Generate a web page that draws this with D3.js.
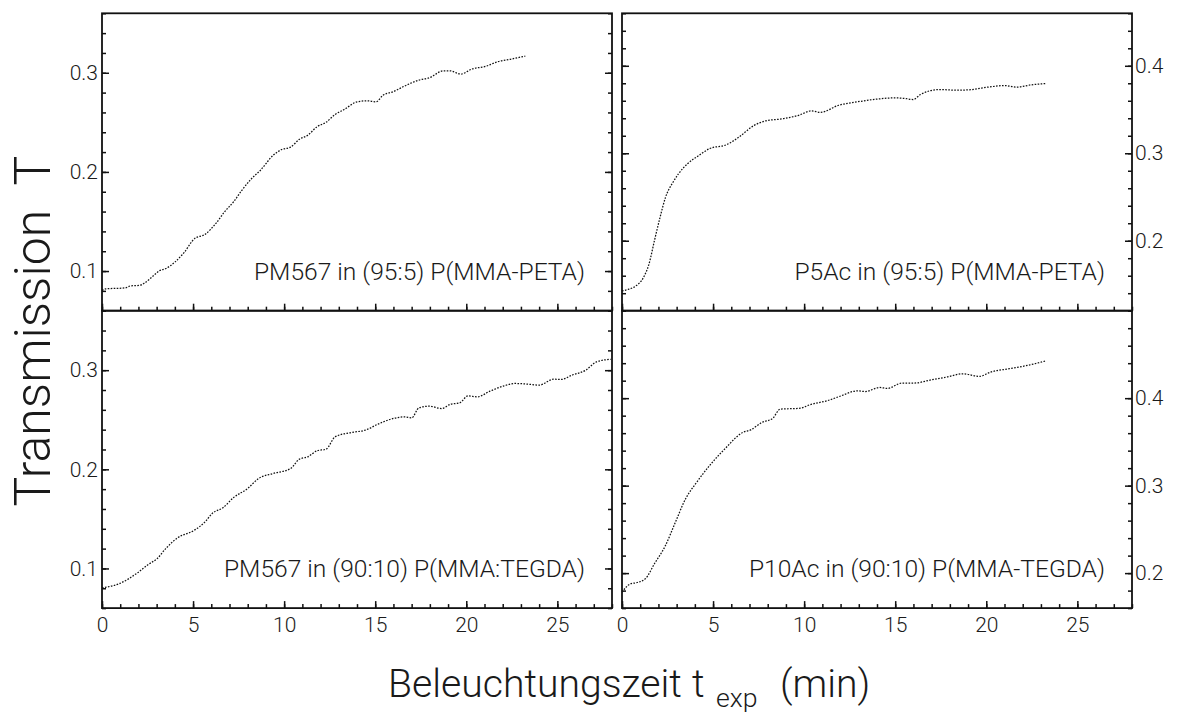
<!DOCTYPE html>
<html>
<head>
<meta charset="utf-8">
<script src="https://cdn.jsdelivr.net/npm/d3@7"></script>
<style>
  html, body { margin: 0; padding: 0; background: #fff; }
  svg { display: block; }
  text { font-family: Roboto, "Liberation Sans", Arial, sans-serif; font-weight: 300; fill: #1a1a1a; }
</style>
</head>
<body>
<svg id="chart" width="1178" height="714"></svg>
<script>
// Exposure time (min) and transmission for the four samples
const tPM567Peta = [0, 0.2, 1.27, 1.56, 2.05, 2.34, 2.93, 3.13, 3.5, 4.0, 4.5, 5.08, 5.66, 6.25, 6.74, 7.23, 7.7, 8.2, 8.7, 9.4, 9.86, 10.35, 10.84, 11.3, 11.8, 12.3, 12.8, 13.3, 14.0, 14.55, 15.04, 15.43, 16.0, 16.6, 17.4, 17.97, 18.75, 19.1, 19.7, 20.3, 21.1, 21.7, 22.46, 23.24];
const vPM567Peta = [0.0805, 0.082, 0.083, 0.085, 0.0855, 0.088, 0.097, 0.100, 0.1025, 0.109, 0.1185, 0.1327, 0.137, 0.148, 0.160, 0.170, 0.182, 0.193, 0.2017, 0.2168, 0.2226, 0.225, 0.233, 0.237, 0.2455, 0.250, 0.258, 0.263, 0.2707, 0.2717, 0.2707, 0.2774, 0.281, 0.2865, 0.2926, 0.295, 0.302, 0.302, 0.2987, 0.3037, 0.3067, 0.311, 0.3138, 0.3168];

const tP5AcPeta = [0, 0.37, 0.77, 1.18, 1.48, 1.78, 2.09, 2.39, 2.8, 3.1, 3.6, 4.22, 4.8, 5.74, 6.35, 7.26, 7.87, 8.88, 9.7, 10.4, 10.9, 11.9, 12.9, 13.96, 14.97, 15.6, 15.98, 16.39, 17.4, 18.4, 19.2, 20.2, 21.05, 21.66, 22.47, 23.3];
const vP5AcPeta = [0.1426, 0.1446, 0.1484, 0.158, 0.1732, 0.200, 0.2268, 0.2497, 0.2669, 0.2765, 0.288, 0.2975, 0.3052, 0.3098, 0.3174, 0.3319, 0.3369, 0.3396, 0.3434, 0.3484, 0.3468, 0.3549, 0.3587, 0.3618, 0.3633, 0.3625, 0.3614, 0.3671, 0.3728, 0.3721, 0.3728, 0.3759, 0.3774, 0.3755, 0.3782, 0.3797];

const tPM567Tegda = [0, 0.98, 1.95, 2.54, 3.03, 3.5, 4.1, 5.08, 5.66, 6.05, 6.64, 7.23, 8.0, 8.6, 9.4, 10.35, 10.84, 11.3, 11.8, 12.3, 12.8, 13.67, 14.45, 15.23, 16.0, 16.6, 17.0, 17.4, 17.97, 18.65, 19.14, 19.63, 20.1, 20.6, 21.3, 22.07, 22.66, 23.4, 24.0, 24.8, 25.2, 25.8, 26.56, 27.15, 27.93];
const vPM567Tegda = [0.0805, 0.0849, 0.0956, 0.104, 0.110, 0.120, 0.1303, 0.1387, 0.147, 0.1555, 0.1612, 0.1716, 0.1807, 0.1908, 0.1958, 0.2007, 0.2103, 0.2126, 0.2187, 0.2203, 0.2328, 0.2371, 0.2395, 0.2462, 0.2513, 0.2529, 0.2519, 0.262, 0.2637, 0.2613, 0.2657, 0.267, 0.2741, 0.2731, 0.2788, 0.2842, 0.2866, 0.2859, 0.2849, 0.2909, 0.2906, 0.295, 0.300, 0.3084, 0.311];

const tP10AcTegda = [0, 0.47, 0.77, 1.28, 1.78, 2.39, 2.9, 3.5, 4.12, 4.83, 5.64, 6.65, 7.06, 7.67, 8.28, 8.68, 9.8, 10.3, 11.3, 11.93, 12.94, 13.35, 14.16, 14.56, 15.37, 15.98, 17.0, 17.81, 18.72, 19.63, 20.24, 21.26, 22.27, 23.3];
const vP10AcTegda = [0.1782, 0.1878, 0.1889, 0.1935, 0.2107, 0.2317, 0.2566, 0.2853, 0.3044, 0.3235, 0.3419, 0.361, 0.3637, 0.3721, 0.3771, 0.3874, 0.3885, 0.3924, 0.3973, 0.4019, 0.4084, 0.4076, 0.4122, 0.4111, 0.4172, 0.4172, 0.421, 0.4241, 0.4279, 0.4249, 0.4298, 0.4337, 0.4375, 0.4428];

// Sample labels
const sampleLabels = [
  "PM567 in (95:5) P(MMA-PETA)",
  "P5Ac in (95:5) P(MMA-PETA)",
  "PM567 in (90:10) P(MMA:TEGDA)",
  "P10Ac in (90:10) P(MMA-TEGDA)"
];

// Axis ranges and tick values
const xDomain = [0, 28];
const xMajorTicks = [0, 5, 10, 15, 20, 25];
const xMinorTicks = d3.range(0, 29, 1);
const yDomainLeft = [0.06, 0.36];
const yDomainTopRight = [0.12, 0.46];
const yDomainBottomRight = [0.16, 0.50];
const yMajorLeft = [0.1, 0.2, 0.3];
const yMajorTopRight = [0.2, 0.3, 0.4];
const yMajorBottomRight = [0.2, 0.3, 0.4];

const xAxisTitle = "Beleuchtungszeit";
const xAxisSymbol = "t";
const xAxisSub = "exp";
const xAxisUnit = "(min)";
const yAxisTitle = "Transmission\u00a0\u00a0T";

const svg = d3.select("#chart");

const colX = [102, 622];
const rowY = [13.3, 310.7];
const panelW = 510;
const panelH = 297.4;
const tickFont = 21;
const fontStack = "Roboto, Liberation Sans, Arial, sans-serif";

const panels = [
  { t: tPM567Peta,  v: vPM567Peta,  label: sampleLabels[0], col: 0, row: 0, dom: yDomainLeft,        major: yMajorLeft },
  { t: tP5AcPeta,   v: vP5AcPeta,   label: sampleLabels[1], col: 1, row: 0, dom: yDomainTopRight,    major: yMajorTopRight },
  { t: tPM567Tegda, v: vPM567Tegda, label: sampleLabels[2], col: 0, row: 1, dom: yDomainLeft,        major: yMajorLeft },
  { t: tP10AcTegda, v: vP10AcTegda, label: sampleLabels[3], col: 1, row: 1, dom: yDomainBottomRight, major: yMajorBottomRight }
];

function minorTicks(dom) {
  const out = [];
  for (let k = Math.round(dom[0] * 50); k <= Math.round(dom[1] * 50); k++) out.push(k / 50);
  return out;
}

function styleAxis(g, withLabels) {
  g.select(".domain").remove();
  g.selectAll(".tick line").attr("stroke", "#111").attr("stroke-width", 1.5);
  g.selectAll(".tick text")
    .attr("font-size", tickFont)
    .attr("font-family", fontStack)
    .attr("font-weight", 300)
    .attr("fill", "#1a1a1a");
  if (!withLabels) g.selectAll(".tick text").remove();
}

panels.forEach(p => {
  const x0 = colX[p.col], y0 = rowY[p.row];
  const g = svg.append("g").attr("transform", `translate(${x0},${y0})`);
  const x = d3.scaleLinear().domain(xDomain).range([0, panelW]);
  const y = d3.scaleLinear().domain(p.dom).range([panelH, 0]);
  const fmt = d3.format(".1f");

  // y ticks, left and right edges, pointing inward
  const yMin = minorTicks(p.dom);
  g.append("g").call(d3.axisLeft(y).tickValues(yMin).tickSizeInner(-4).tickSizeOuter(0).tickFormat(""))
    .call(s => styleAxis(s, false));
  g.append("g").call(d3.axisLeft(y).tickValues(p.major).tickSizeInner(-7).tickSizeOuter(0).tickPadding(4).tickFormat(fmt))
    .call(s => styleAxis(s, p.col === 0));
  g.append("g").attr("transform", `translate(${panelW},0)`)
    .call(d3.axisRight(y).tickValues(yMin).tickSizeInner(-4).tickSizeOuter(0).tickFormat(""))
    .call(s => styleAxis(s, false));
  g.append("g").attr("transform", `translate(${panelW},0)`)
    .call(d3.axisRight(y).tickValues(p.major).tickSizeInner(-7).tickSizeOuter(0).tickPadding(3).tickFormat(fmt))
    .call(s => styleAxis(s, p.col === 1));

  // x ticks on the bottom edge, pointing inward
  g.append("g").attr("transform", `translate(0,${panelH})`)
    .call(d3.axisBottom(x).tickValues(xMinorTicks).tickSizeInner(-4).tickSizeOuter(0).tickFormat(""))
    .call(s => styleAxis(s, false));
  g.append("g").attr("transform", `translate(0,${panelH})`)
    .call(d3.axisBottom(x).tickValues(xMajorTicks).tickSizeInner(-7).tickSizeOuter(0).tickPadding(9).tickFormat(d3.format("d")))
    .call(s => styleAxis(s, p.row === 1));

  // frame
  g.append("rect").attr("x", 0).attr("y", 0).attr("width", panelW).attr("height", panelH)
    .attr("fill", "none").attr("stroke", "#111").attr("stroke-width", 1.8);

  // data curve
  const pts = p.t.map((t, i) => [t, p.v[i]]);
  g.append("path")
    .datum(pts)
    .attr("fill", "none")
    .attr("stroke", "#111")
    .attr("stroke-width", 1.25)
    .attr("stroke-dasharray", "1.6,1.4")
    .attr("d", d3.line().x(d => x(d[0])).y(d => y(d[1])).curve(d3.curveMonotoneX));

  // sample label
  g.append("text")
    .attr("x", panelW - 27)
    .attr("y", p.row === 0 ? 280 - y0 : 577 - y0)
    .attr("text-anchor", "end")
    .attr("font-size", 24.6)
    .text(p.label);
});

// x axis title with subscript; the main word is sized to span 294 px
const xt = svg.append("text").attr("y", 697).attr("font-size", 40);
const mainWord = xt.append("tspan").attr("x", 388).text(xAxisTitle);
const w40 = mainWord.node().getComputedTextLength();
const titleSize = w40 > 0 ? 40 * 294 / w40 : 38.5;
xt.attr("font-size", titleSize);
xt.append("tspan").attr("x", 692).text(xAxisSymbol);
xt.append("tspan").attr("x", 716).attr("dy", 10).attr("font-size", titleSize * 0.68).text(xAxisSub);
xt.append("tspan").attr("x", 780).attr("dy", -10).text(xAxisUnit);

// y axis title
svg.append("text")
  .attr("transform", "translate(50,331) rotate(-90)")
  .attr("text-anchor", "middle")
  .attr("font-size", 50)
  .text(yAxisTitle);
</script>
</body>
</html>
